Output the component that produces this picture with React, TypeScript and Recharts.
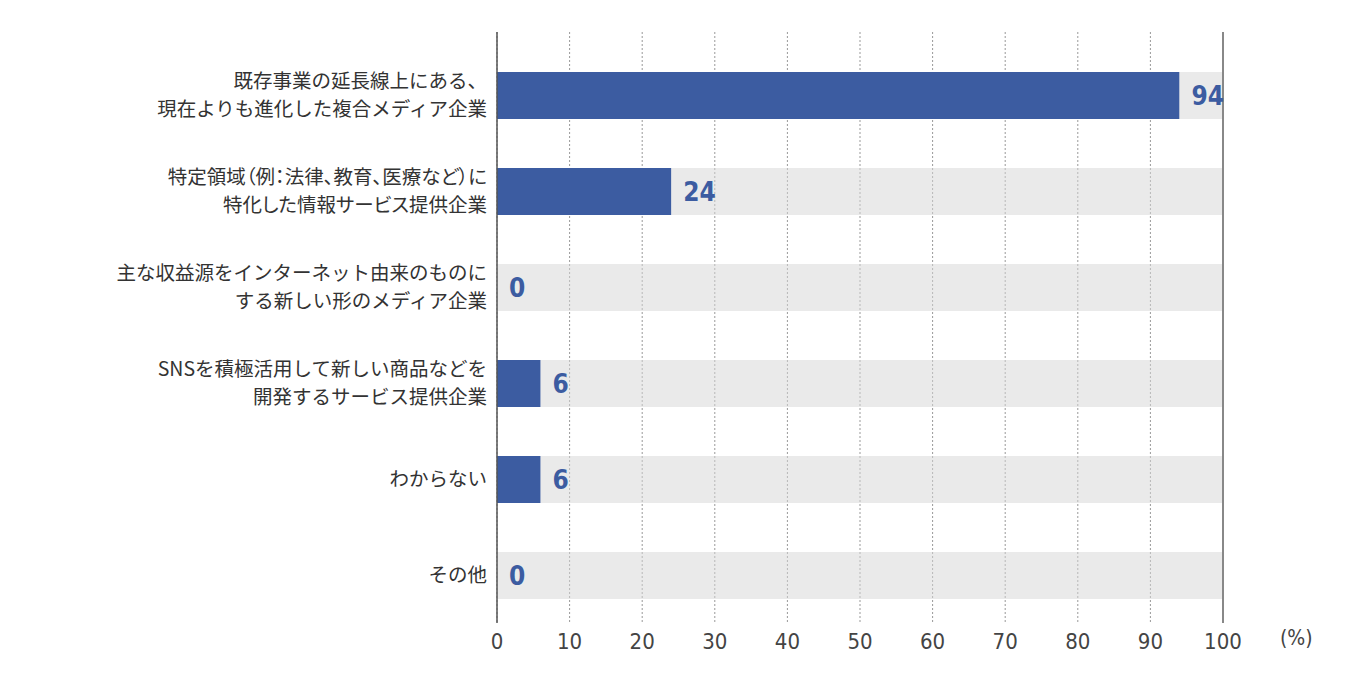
import React from "react";
import {
  BarChart,
  Bar,
  XAxis,
  YAxis,
  CartesianGrid,
  ReferenceLine,
  LabelList,
} from "recharts";

const categories = [
  "既存事業の延長線上にある、\n現在よりも進化した複合メディア企業",
  "特定領域（例：法律、教育、医療など）に\n特化した情報サービス提供企業",
  "主な収益源をインターネット由来のものに\nする新しい形のメディア企業",
  "SNSを積極活用して新しい商品などを\n開発するサービス提供企業",
  "わからない",
  "その他",
];

const values = [94, 24, 0, 6, 6, 0];

const xTicks = [0, 10, 20, 30, 40, 50, 60, 70, 80, 90, 100];

const MAX = 100;

// rest = gray track up to 100%, stacked after the blue bar
const data = categories.map((name, i) => ({
  name,
  value: values[i],
  rest: MAX - values[i],
}));

const BLUE = "#3c5ca1";
const JP_FONT = '"Noto Sans CJK JP", "Noto Sans", sans-serif';
const NUM_FONT = '"DejaVu Sans Condensed", "DejaVu Sans", sans-serif';

const CategoryTick = (props: any) => {
  const { x, y, payload } = props;
  const lines = String(payload.value).split("\n");
  const lineH = 27.5;
  const start = -((lines.length - 1) * lineH) / 2;
  const palt = String(payload.value).includes("（");
  return (
    <text
      x={x - 2}
      y={y + start}
      textAnchor="end"
      fill="#333"
      fontSize={19.5}
      fontFamily={JP_FONT}
      style={palt ? { fontFeatureSettings: '"palt"' } : undefined}
    >
      {lines.map((line: string, i: number) => (
        <tspan key={i} x={x - 2} dy={i === 0 ? "0.36em" : lineH}>
          {line}
        </tspan>
      ))}
    </text>
  );
};

const ValueLabel = (props: any) => {
  const { x, y, height, index } = props;
  return (
    <text
      x={x + 12}
      y={y + height / 2}
      dy="0.36em"
      fill={BLUE}
      fontSize={26}
      fontWeight="bold"
      fontFamily={NUM_FONT}
    >
      {values[index]}
    </text>
  );
};

export default function App() {
  return (
    <div style={{ position: "relative", width: 1338, height: 677, background: "#fff" }}>
      <BarChart
        width={1338}
        height={677}
        data={data}
        layout="vertical"
        margin={{ top: 24, right: 123, bottom: 0, left: 0 }}
        barCategoryGap={0}
      >
        <CartesianGrid
          horizontal={false}
          stroke="#999"
          strokeDasharray="2 2"
        />
        <XAxis
          type="number"
          domain={[0, MAX]}
          ticks={xTicks}
          interval={0}
          axisLine={false}
          tickLine={false}
          tickMargin={4}
          height={62}
          tick={{ fill: "#444", fontSize: 22, fontFamily: NUM_FONT }}
        />
        <YAxis
          type="category"
          dataKey="name"
          width={489}
          axisLine={{ stroke: "#555", strokeWidth: 1.5 }}
          tickLine={false}
          padding={{ top: 15, bottom: 0 }}
          tick={<CategoryTick />}
          interval={0}
        />
        <ReferenceLine x={MAX} stroke="#888" strokeWidth={2} />
        <Bar
          dataKey="value"
          stackId="a"
          fill={BLUE}
          barSize={47}
          isAnimationActive={false}
        />
        <Bar
          dataKey="rest"
          stackId="a"
          fill="#d6d6d6"
          fillOpacity={0.5}
          barSize={47}
          isAnimationActive={false}
        >
          <LabelList dataKey="rest" content={<ValueLabel />} />
        </Bar>
      </BarChart>
      <div
        style={{
          position: "absolute",
          left: 1272,
          top: 618,
          fontSize: 21,
          fontFamily: NUM_FONT,
          color: "#444",
        }}
      >
        (%)
      </div>
    </div>
  );
}
